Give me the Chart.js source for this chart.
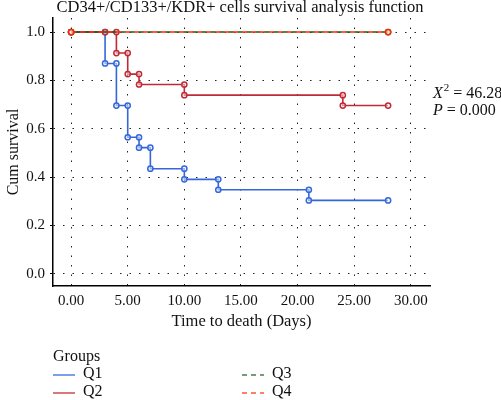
<!DOCTYPE html>
<html>
<head>
<meta charset="utf-8">
<script src="https://cdn.jsdelivr.net/npm/chart.js@4/dist/chart.umd.min.js"></script>
<style>
  html, body { margin:0; padding:0; background:#fff; }
  #wrap { position:relative; width:501px; height:400px; }
</style>
</head>
<body>
<div id="wrap"><canvas id="km" width="501" height="400"></canvas></div>
<script>
// --- data (Kaplan-Meier steps) ---
const q1Time = [0, 3, 3, 4, 4, 5, 5, 6, 6, 7, 7, 10, 10, 13, 13, 21, 21, 28];
const q1Surv = [1, 1, 0.870, 0.870, 0.696, 0.696, 0.565, 0.565, 0.522, 0.522, 0.435, 0.435, 0.391, 0.391, 0.348, 0.348, 0.304, 0.304];
const q2Time = [0, 3, 4, 4, 5, 5, 6, 6, 10, 10, 24, 24, 28];
const q2Surv = [1, 1, 1, 0.913, 0.913, 0.826, 0.826, 0.783, 0.783, 0.739, 0.739, 0.696, 0.696];
const q3Time = [0, 28];
const q3Surv = [1, 1];
const q4Time = [0, 28];
const q4Surv = [1, 1];

const xTicks = [0, 5, 10, 15, 20, 25, 30];
const yTicks = [0, 0.2, 0.4, 0.6, 0.8, 1.0];
const groups = ['Q1', 'Q2', 'Q3', 'Q4'];
const chi2 = '46.28';
const pVal = '0.000';

const SERIF = '"Liberation Serif", "DejaVu Serif", serif';
const colors = { Q1:'#3567d8', Q2:'#c02a36', Q3:'#1d5a1d', Q4:'#ff2a00' };
const dashes = { Q1:[], Q2:[], Q3:[5,4], Q4:[5,4] };

const pts = (t, s) => t.map((x, i) => ({ x, y: s[i] }));

function ds(name, data, order, dashOffset) {
  return {
    label: name, data, order,
    borderColor: colors[name], borderWidth: 1.6,
    borderDash: dashes[name], borderDashOffset: dashOffset || 0,
    pointRadius: 2.6, pointBorderWidth: 1.5,
    pointBorderColor: colors[name], pointBackgroundColor: 'rgba(255,255,255,0.5)',
    fill: false, tension: 0
  };
}

// titles, stats and the two-column legend
const extras = {
  id: 'extras',
  afterDraw(chart) {
    const ctx = chart.ctx;
    ctx.save();
    ctx.fillStyle = '#111';
    ctx.textBaseline = 'middle';

    ctx.font = '16.5px ' + SERIF;
    ctx.textAlign = 'center';
    ctx.fillText('CD34+/CD133+/KDR+ cells survival analysis function', 240, 8);

    // stats
    ctx.textAlign = 'left';
    let x = 433;
    ctx.font = 'italic 16px ' + SERIF;
    ctx.fillText('X', x, 94); x += ctx.measureText('X').width;
    ctx.font = '11px ' + SERIF;
    ctx.fillText('2', x + 1, 88); x += ctx.measureText('2').width + 1;
    ctx.font = '16px ' + SERIF;
    ctx.fillText(' = ' + chi2, x, 94);
    ctx.font = 'italic 16px ' + SERIF;
    ctx.fillText('P', 433, 111);
    const pw = ctx.measureText('P').width;
    ctx.font = '16px ' + SERIF;
    ctx.fillText(' = ' + pVal, 433 + pw, 111);

    // legend
    ctx.font = '16px ' + SERIF;
    ctx.fillText('Groups', 53, 357);
    const slots = [[53, 375], [53, 393], [242, 375], [242, 393]];
    groups.forEach((g, i) => {
      const [lx, ly] = slots[i];
      ctx.save();
      ctx.strokeStyle = colors[g];
      ctx.globalAlpha = 0.8;
      ctx.lineWidth = 1.6;
      ctx.setLineDash(dashes[g].length ? [5, 4] : []);
      ctx.beginPath(); ctx.moveTo(lx, ly); ctx.lineTo(lx + 22, ly); ctx.stroke();
      ctx.restore();
      ctx.fillText(g, lx + 30, ly - 1);
    });
    ctx.restore();
  }
};

new Chart(document.getElementById('km'), {
  type: 'line',
  data: {
    datasets: [
      ds('Q1', pts(q1Time, q1Surv), 3),
      ds('Q2', pts(q2Time, q2Surv), 2),
      ds('Q3', pts(q3Time, q3Surv), 1, 4.5),
      ds('Q4', pts(q4Time, q4Surv), 0)
    ]
  },
  options: {
    responsive: false, animation: false,
    layout: { padding: { top: 18, right: 71, left: 0, bottom: 0 } },
    plugins: { legend: { display: false }, tooltip: { enabled: false }, title: { display: false } },
    scales: {
      x: {
        type: 'linear', min: -1.6, max: 31.7,
        afterBuildTicks: s => { s.ticks = xTicks.map(v => ({ value: v })); },
        afterFit: s => { s.height = 114; },
        ticks: { callback: v => v.toFixed(2), color: '#111', padding: 6, maxRotation: 0,
                 font: { family: SERIF, size: 15 } },
        grid: { color: '#222', lineWidth: 1, drawTicks: false },
        border: { display: true, color: '#000', width: 1.5, dash: [1.5, 8] },
        title: { display: true, text: 'Time to death (Days)', color: '#111',
                 font: { family: SERIF, size: 16.5 }, padding: { top: 0, bottom: 68 } }
      },
      y: {
        type: 'linear', min: -0.05, max: 1.058,
        afterBuildTicks: s => { s.ticks = yTicks.map(v => ({ value: v })); },
        afterFit: s => { s.width = 53; },
        ticks: { callback: v => v.toFixed(1), color: '#111', padding: 5,
                 font: { family: SERIF, size: 15 } },
        grid: { color: '#222', lineWidth: 1, drawTicks: true, tickLength: 3,
                tickColor: '#000', tickBorderDash: [] },
        border: { display: true, color: '#000', width: 1.5, dash: [1.5, 8] },
        title: { display: true, text: 'Cum survival', color: '#111',
                 font: { family: SERIF, size: 16 }, padding: { top: 4, bottom: 0 } }
      }
    }
  },
  plugins: [extras]
});
</script>
</body>
</html>
